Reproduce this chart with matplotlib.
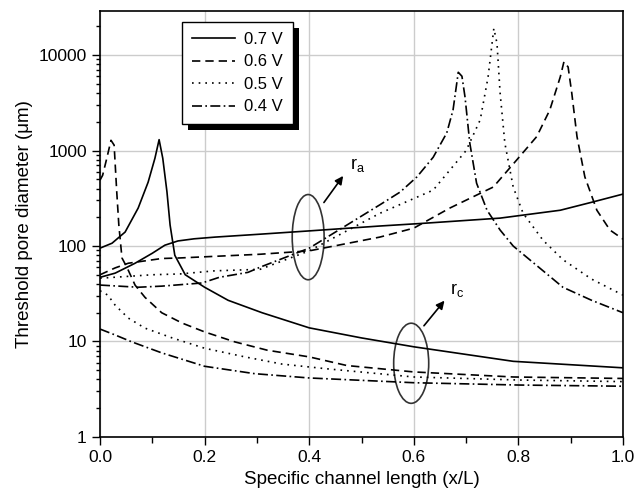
import numpy as np
import matplotlib
matplotlib.use("Agg")
import matplotlib.pyplot as plt
from matplotlib.patches import Ellipse, Rectangle
from matplotlib.transforms import IdentityTransform

plt.rcParams['font.family'] = ['Liberation Sans', 'DejaVu Sans']

# x = specific channel length, y = threshold pore diameter (um)
# 0.7 V
x07_a = [0.0, 0.029, 0.067, 0.1, 0.124, 0.149, 0.18, 0.22, 0.306, 0.4, 0.535, 0.612, 0.765, 0.88, 0.943, 1.0]
y07_a = [47, 52, 66, 84, 102, 113, 119, 124, 133, 144, 162, 172, 196, 237, 290, 350]
x07_c = [0.0, 0.023, 0.048, 0.073, 0.092, 0.105, 0.113, 0.12, 0.128, 0.134, 0.143, 0.163, 0.2, 0.245, 0.31, 0.4, 0.5, 0.6, 0.79, 1.0]
y07_c = [95, 107, 140, 250, 466, 830, 1300, 830, 370, 166, 80, 50, 37, 27, 20, 13.9, 10.9, 8.8, 6.2, 5.3]
# 0.6 V
x06_a = [0.0, 0.029, 0.054, 0.118, 0.153, 0.306, 0.4, 0.535, 0.6, 0.669, 0.752, 0.797, 0.835, 0.86, 0.88, 0.887, 0.895, 0.902, 0.912, 0.927, 0.95, 0.975, 1.0]
y06_a = [50, 59, 66, 74, 75, 82, 89, 124, 154, 250, 415, 800, 1400, 2660, 5900, 8500, 7500, 4000, 1400, 530, 237, 147, 118]
x06_c = [0.0, 0.005, 0.013, 0.021, 0.027, 0.032, 0.036, 0.042, 0.052, 0.067, 0.086, 0.118, 0.157, 0.2, 0.258, 0.32, 0.4, 0.472, 0.6, 0.79, 1.0]
y06_c = [490, 550, 830, 1280, 1140, 370, 166, 75, 59, 39, 29, 20, 15.6, 12.6, 9.9, 8.1, 6.9, 5.6, 4.8, 4.25, 4.1]
# 0.5 V
x05_a = [0.0, 0.1, 0.153, 0.22, 0.306, 0.4, 0.535, 0.637, 0.7, 0.727, 0.742, 0.753, 0.759, 0.765, 0.774, 0.79, 0.809, 0.847, 0.885, 0.94, 1.0]
y05_a = [46, 50, 51, 55, 57, 89, 220, 385, 1000, 2100, 5900, 19000, 13300, 4000, 1200, 415, 220, 115, 72, 45, 30.6]
x05_c = [0.0, 0.015, 0.029, 0.054, 0.086, 0.138, 0.2, 0.277, 0.348, 0.43, 0.6, 0.8, 1.0]
y05_c = [34, 30.6, 24, 17.6, 13.8, 10.9, 8.5, 6.9, 5.8, 5.2, 4.25, 3.95, 3.8]
# 0.4 V
x04_a = [0.0, 0.073, 0.118, 0.195, 0.228, 0.283, 0.306, 0.4, 0.535, 0.574, 0.606, 0.637, 0.663, 0.675, 0.685, 0.692, 0.698, 0.707, 0.72, 0.74, 0.765, 0.79, 0.885, 0.94, 1.0]
y04_a = [39, 37, 38, 41, 47, 53, 60, 95, 270, 368, 530, 850, 1530, 2660, 6600, 6000, 3600, 1200, 455, 237, 147, 100, 37, 27, 20]
x04_c = [0.0, 0.029, 0.061, 0.118, 0.2, 0.296, 0.4, 0.6, 0.8, 1.0]
y04_c = [13.5, 11.7, 9.9, 7.6, 5.5, 4.6, 4.15, 3.7, 3.5, 3.4]

volts = ['0.7 V', '0.6 V', '0.5 V', '0.4 V']

fig = plt.figure(figsize=(6.39, 4.96), dpi=100)
ax = fig.add_axes([0.1565, 0.119, 0.8185, 0.859])

styles = ['-', (0, (5, 3)), (0, (1, 3)), (0, (6, 2, 1, 2))]
curves = [(x07_a, y07_a, x07_c, y07_c), (x06_a, y06_a, x06_c, y06_c),
          (x05_a, y05_a, x05_c, y05_c), (x04_a, y04_a, x04_c, y04_c)]
for (xa, ya, xc, yc), ls, lab in zip(curves, styles, volts):
    ax.plot(xa, ya, color='black', lw=1.2, ls=ls, label=lab)
    ax.plot(xc, yc, color='black', lw=1.2, ls=ls)

ax.set_yscale('log')
ax.set_xlim(0, 1.0)
ax.set_ylim(1, 29000)
ax.set_xticks([0.0, 0.2, 0.4, 0.6, 0.8, 1.0])
ax.set_xticklabels(['0.0', '0.2', '0.4', '0.6', '0.8', '1.0'])
ax.set_xticks([0.1, 0.3, 0.5, 0.7, 0.9], minor=True)
ax.set_yticks([1, 10, 100, 1000, 10000])
ax.set_yticklabels(['1', '10', '100', '1000', '10000'])
ax.tick_params(which='major', direction='out', length=6, width=1, labelsize=12.5, colors='black')
ax.tick_params(which='minor', direction='out', length=3, width=1)
ax.tick_params(axis='x', which='minor', length=4)
ax.grid(True, which='major', color='#cccccc', lw=1)
ax.set_axisbelow(True)
for s in ax.spines.values():
    s.set_linewidth(1.2)

ax.set_xlabel('Specific channel length (x/L)', fontsize=13.5)
ax.set_ylabel('Threshold pore diameter (\u03bcm)', fontsize=13.5)

# ellipses marking the two groups of curves
ax.add_patch(Ellipse((0.398, 0.469), 0.061, 0.2, transform=ax.transAxes,
                     fill=False, ec='#333333', lw=1.2))
ax.add_patch(Ellipse((0.595, 0.173), 0.067, 0.188, transform=ax.transAxes,
                     fill=False, ec='#333333', lw=1.2))
ax.annotate('', xy=(0.468, 0.618), xytext=(0.425, 0.545), xycoords='axes fraction',
            arrowprops=dict(arrowstyle='-|>', color='black', lw=1.2, mutation_scale=12))
ax.annotate('', xy=(0.662, 0.325), xytext=(0.616, 0.256), xycoords='axes fraction',
            arrowprops=dict(arrowstyle='-|>', color='black', lw=1.2, mutation_scale=12))
ax.text(0.478, 0.63, 'r$_\\mathregular{a}$', transform=ax.transAxes, fontsize=13)
ax.text(0.67, 0.335, 'r$_\\mathregular{c}$', transform=ax.transAxes, fontsize=13)

leg = ax.legend(loc='upper left', bbox_to_anchor=(0.157, 0.974), borderaxespad=0,
                fancybox=False, edgecolor='black', framealpha=1, fontsize=12,
                handlelength=2.6, handletextpad=0.5, labelspacing=0.45, borderpad=0.6)
leg.get_frame().set_linewidth(1.0)
leg.set_zorder(5)

# solid black drop shadow behind the legend box
fig.canvas.draw()
bb = leg.get_window_extent()
shadow = Rectangle((bb.x0 + 6, bb.y0 - 6), bb.width, bb.height, transform=IdentityTransform(),
                   facecolor='black', edgecolor='none', zorder=4, clip_on=False)
ax.add_artist(shadow)

fig.savefig('out.png', dpi=100)
